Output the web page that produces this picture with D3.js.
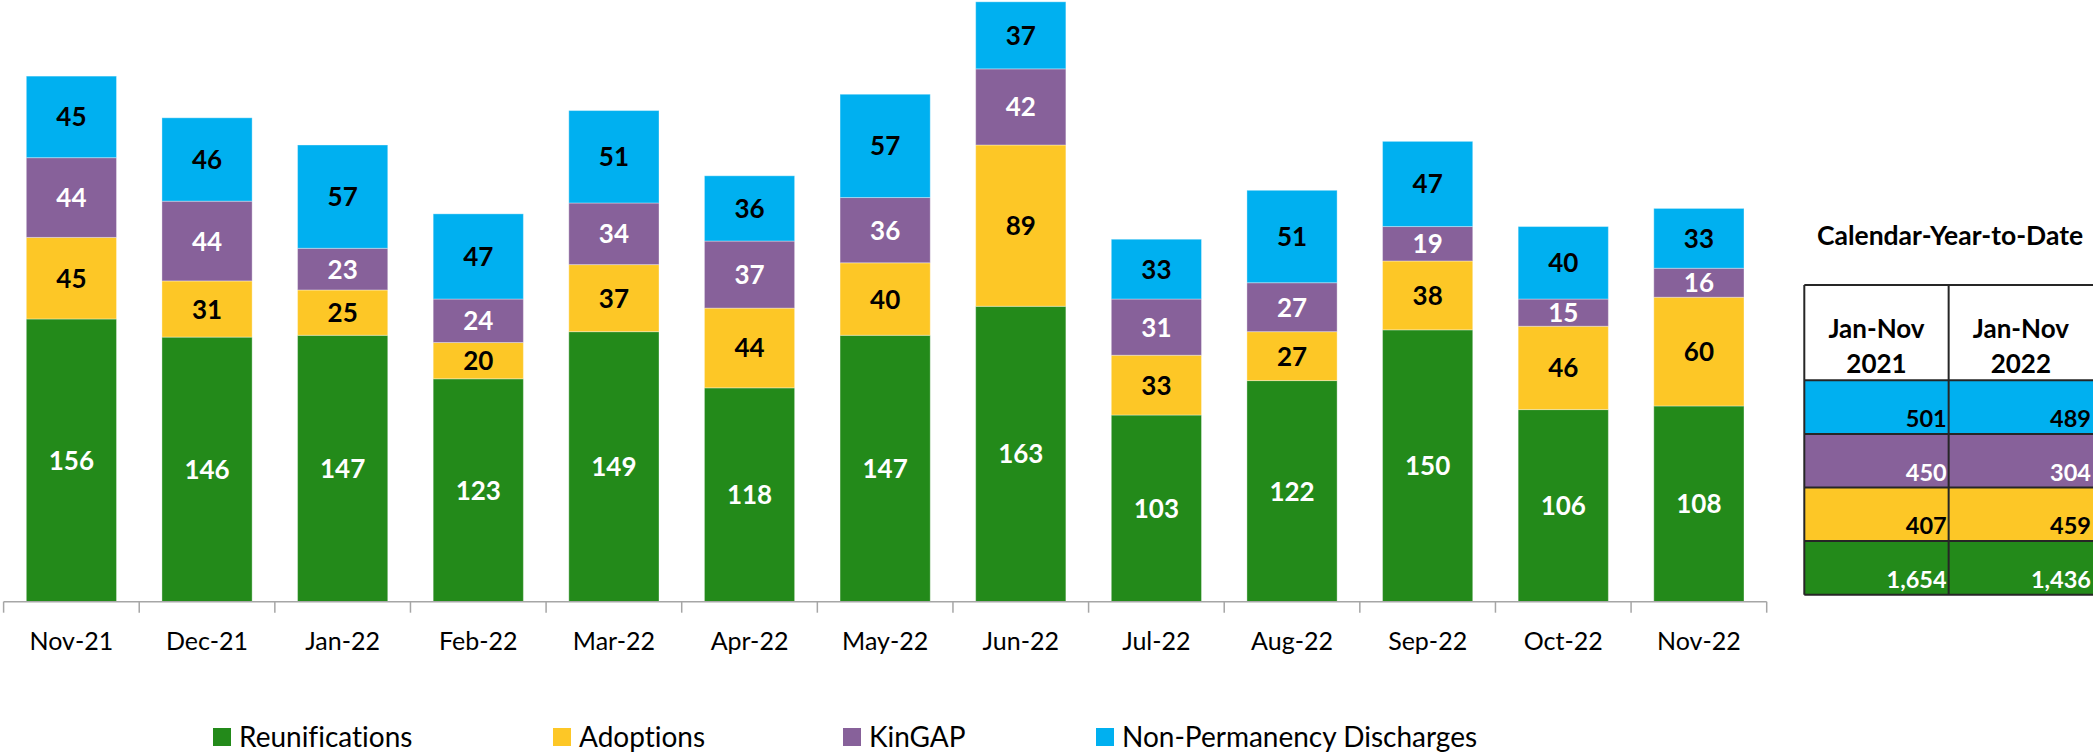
<!DOCTYPE html>
<html><head><meta charset="utf-8">
<script src="https://cdn.jsdelivr.net/npm/d3@7"></script>
<style>
html,body{margin:0;padding:0;background:#fff;}
svg{display:block;font-family:Lato,"Open Sans",sans-serif;font-variant-ligatures:none;}
</style></head>
<body>
<svg id="c" width="2093" height="753"></svg>
<script>
const categories = ["Nov-21","Dec-21","Jan-22","Feb-22","Mar-22","Apr-22","May-22","Jun-22","Jul-22","Aug-22","Sep-22","Oct-22","Nov-22"];
const seriesNames = ["Reunifications","Adoptions","KinGAP","Non-Permanency Discharges"];
const reunifications = [156,146,147,123,149,118,147,163,103,122,150,106,108];
const adoptions = [45,31,25,20,37,44,40,89,33,27,38,46,60];
const kingap = [44,44,23,24,34,37,36,42,31,27,19,15,16];
const nonPermanency = [45,46,57,47,51,36,57,37,33,51,47,40,33];
const colors = ["#238A1A","#FDC726","#87619A","#00B0F0"];
const labelColors = ["#fff","#000","#fff","#000"];
const tableTitle = "Calendar-Year-to-Date";
const ytdHeaders = [["Jan-Nov","2021"],["Jan-Nov","2022"]];
const ytd2021 = [1654,407,450,501];
const ytd2022 = [1436,459,304,489];

const svg = d3.select("#c");
const seriesVals = [reunifications, adoptions, kingap, nonPermanency];
const rows = categories.map((c,i)=>{const o={cat:c}; seriesNames.forEach((s,j)=>o[s]=seriesVals[j][i]); return o;});
const stack = d3.stack().keys(seriesNames)(rows);

const x = d3.scaleBand().domain(categories).range([3.6,1766.7]).paddingInner(0.335).paddingOuter(0.1675);
const y = d3.scaleLinear().domain([0,332]).range([601.7,0]);

const g = svg.append("g");
stack.forEach((layer,j)=>{
  const lg = g.append("g");
  lg.selectAll("rect").data(layer).join("rect")
    .attr("x",d=>x(d.data.cat)).attr("width",x.bandwidth())
    .attr("y",d=>y(d[1])).attr("height",d=>y(d[0])-y(d[1]))
    .attr("fill",colors[j]).attr("stroke","rgba(255,255,255,0.35)").attr("stroke-width",1);
  lg.selectAll("text").data(layer).join("text")
    .attr("x",d=>x(d.data.cat)+x.bandwidth()/2)
    .attr("y",d=>(y(d[0])+y(d[1]))/2+9.5)
    .attr("text-anchor","middle").attr("font-weight","bold").attr("font-size",26)
    .attr("fill",labelColors[j]).text(d=>d[1]-d[0]);
});

// axis
const step = x.step(), r0 = x.range()[0];
svg.append("line").attr("x1",r0).attr("x2",x.range()[1]).attr("y1",y(0)).attr("y2",y(0))
  .attr("stroke","#A6A6A6").attr("stroke-width",1.5);
svg.selectAll(".tk").data(d3.range(categories.length+1)).join("line")
  .attr("x1",i=>r0+i*step).attr("x2",i=>r0+i*step).attr("y1",y(0)).attr("y2",y(0)+11)
  .attr("stroke","#A6A6A6").attr("stroke-width",1.5);
svg.selectAll(".xl").data(categories).join("text")
  .attr("x",d=>x(d)+x.bandwidth()/2).attr("y",650).attr("text-anchor","middle")
  .attr("font-size",25).attr("fill","#000").text(d=>d);

// legend
const legX = [213,553,843,1096];
const lgd = svg.append("g");
seriesNames.forEach((s,j)=>{
  lgd.append("rect").attr("x",legX[j]).attr("y",728).attr("width",18).attr("height",18).attr("fill",colors[j]);
  lgd.append("text").attr("x",legX[j]+26).attr("y",747).attr("font-size",28).attr("fill","#000").text(s);
});

// table
const tx = d3.scaleBand().domain([0,1]).range([1804.3,2093]);
const rowOrder = [3,2,1,0];
const ty = d3.scaleBand().domain(rowOrder).range([380.3,594.7]);
const tg = svg.append("g");
tg.append("text").attr("x",1950).attr("y",245).attr("text-anchor","middle")
  .attr("font-weight","bold").attr("font-size",26.5).text(tableTitle);
tg.append("rect").attr("x",1804.3).attr("y",285).attr("width",2093-1804.3).attr("height",95.3).attr("fill","#fff");
const ytd = [ytd2021, ytd2022];
rowOrder.forEach(j=>{
  [0,1].forEach(c=>{
    tg.append("rect").attr("x",tx(c)).attr("y",ty(j)).attr("width",tx.bandwidth()).attr("height",ty.bandwidth())
      .attr("fill",colors[j]);
    tg.append("text").attr("x",tx(c)+tx.bandwidth()-2).attr("y",ty(j)+ty.bandwidth()-7)
      .attr("text-anchor","end").attr("font-weight","bold").attr("font-size",23.5)
      .attr("fill",labelColors[j]).text(d3.format(",")(ytd[c][j]));
  });
});
ytdHeaders.forEach((h,c)=>{
  tg.append("text").attr("x",tx(c)+tx.bandwidth()/2).attr("y",338).attr("text-anchor","middle")
    .attr("font-weight","bold").attr("font-size",26).text(h[0]);
  tg.append("text").attr("x",tx(c)+tx.bandwidth()/2).attr("y",373).attr("text-anchor","middle")
    .attr("font-weight","bold").attr("font-size",26).text(h[1]);
});
// grid lines
const gl = tg.append("g").attr("stroke","#262626").attr("stroke-width",2);
[285,380.3].concat(rowOrder.map(j=>ty(j)+ty.bandwidth())).forEach(yy=>{
  gl.append("line").attr("x1",1804.3).attr("x2",2093).attr("y1",yy).attr("y2",yy);
});
[1804.3,tx(1)].forEach(xx=>{
  gl.append("line").attr("x1",xx).attr("x2",xx).attr("y1",285).attr("y2",594.7);
});
</script>
</body></html>
